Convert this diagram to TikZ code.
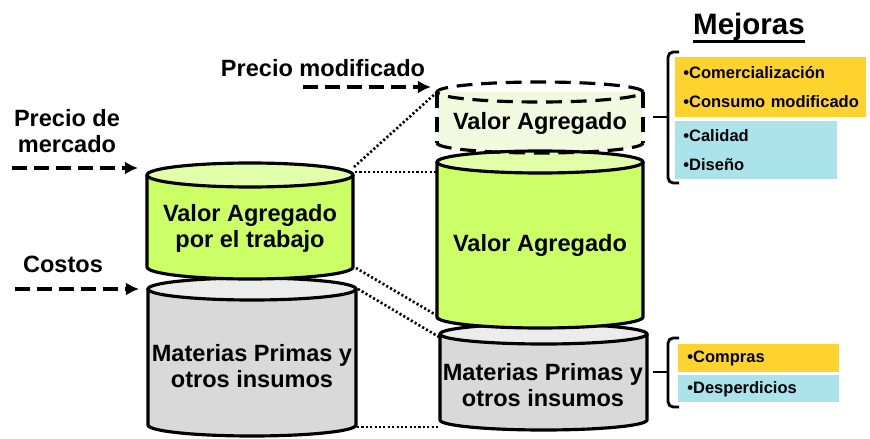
\documentclass[tikz,border=0pt]{standalone}
\usepackage{fontspec}
\setmainfont{Liberation Sans}
\usetikzlibrary{arrows.meta}

\definecolor{vgreen}{HTML}{CCFF66}
\definecolor{vlid}{HTML}{E2FFAA}
\definecolor{mgray}{HTML}{D9D9D9}
\definecolor{mlid}{HTML}{ECECEC}
\definecolor{vpale}{HTML}{F1F9DF}
\definecolor{morange}{HTML}{FFD32E}
\definecolor{mcyan}{HTML}{ABE3EA}

\begin{document}
\begin{tikzpicture}[x=0.02cm,y=0.02cm,
	rim/.style={line width=1.8pt},
	gap/.style={line width=1.8pt,dash pattern=on 9pt off 5pt},
	feed/.style={line width=1.9pt,dash pattern=on 8.5pt off 4pt,-{Latex[length=7.5pt,width=7.5pt]}},
	link/.style={line width=1.5pt,dash pattern=on 1.2pt off 1.3pt},
	lbl/.style={font=\bfseries\fontsize{13.4}{14.8}\selectfont,align=center,inner sep=0pt},
	item/.style={font=\bfseries\fontsize{9.4}{16.4}\selectfont,align=left,anchor=north west,inner xsep=0.16cm,inner ysep=0pt},
	brace/.style={line width=1.6pt,rounded corners=3pt}]
		\useasboundingbox (0,0) rectangle (870,-439);

		\fill[vpale] (437,-92) rectangle (643,-143);
		\fill[vpale] (540,-143) ellipse [x radius=103,y radius=10];
		\draw[gap] (540,-92) ellipse [x radius=103,y radius=10];
		\draw[gap] (437,-92) -- (437,-143);
		\draw[gap] (643,-92) -- (643,-143);

		\foreach \xl/\xr/\yt/\yb/\ry/\body/\lid in {148/356/-289/-425/11/mgray/mlid,
			147/353/-175/-267/12/vgreen/vlid,
			440/647/-334/-420/10/mgray/mlid,
			437/643/-162/-317/11/vgreen/vlid}{
			\pgfmathsetmacro\cx{(\xl+\xr)/2}
			\pgfmathsetmacro\rx{(\xr-\xl)/2}
			\fill[\body] (\xl,\yt) rectangle (\xr,\yb);
			\fill[\body] (\cx,\yb) ellipse [x radius=\rx,y radius=\ry];
			\draw[rim] (\xl,\yt) -- (\xl,\yb) arc [start angle=180,end angle=360,x radius=\rx,y radius=\ry] -- (\xr,\yt);
			\filldraw[rim,fill=\lid] (\cx,\yt) ellipse [x radius=\rx,y radius=\ry];
		}

		\draw[gap] (437,-143) arc [start angle=180,end angle=360,x radius=103,y radius=10];

		\node[lbl] (va-left) at (250,-228) {Valor Agregado\\por el trabajo};
		\node[lbl] (mp-left) at (252,-366) {Materias Primas y\\otros insumos};
		\node[lbl] (va-new) at (540,-123) {Valor Agregado};
		\node[lbl] (va-right) at (540,-245) {Valor Agregado};
		\node[lbl] (mp-right) at (543,-385) {Materias Primas y\\otros insumos};

		\node[lbl] (mercado) at (67,-131) {Precio de\\mercado};
		\node[lbl] (costos) at (63,-264) {Costos};
		\node[lbl] (modif) at (323,-68) {Precio modificado};
		\node[inner sep=0pt,font=\bfseries\fontsize{16.8}{18}\selectfont] (mejoras) at (749,-27) {Mejoras};
		\draw[line width=1.4pt] ([yshift=-4pt]mejoras.base west) -- ([yshift=-4pt]mejoras.base east);

		\coordinate (mercado-in) at (12,-168);
		\coordinate (mercado-end) at (138,-168);
		\coordinate (costos-in) at (15,-289);
		\coordinate (costos-end) at (139,-289);
		\coordinate (modif-in) at (303,-87);
		\coordinate (modif-end) at (431,-87);
		\draw[feed] (mercado-in) -- (mercado-end);
		\draw[feed] (costos-in) -- (costos-end);
		\draw[feed] (modif-in) -- (modif-end);

		\coordinate (lg-top) at (354,-167);
		\coordinate (lg-mid) at (355,-172);
		\coordinate (lg-bot) at (356,-268);
		\coordinate (lm-top) at (358,-289);
		\coordinate (lm-bot) at (357,-427);
		\coordinate (rn-top) at (436,-93);
		\coordinate (rg-top) at (436,-172);
		\coordinate (rg-bot) at (436,-315);
		\coordinate (rm-top) at (439,-337);
		\coordinate (rm-bot) at (439,-427);
		\draw[link] (lg-top) -- (rn-top);
		\draw[link] (lg-mid) -- (rg-top);
		\draw[link] (lg-bot) -- (rg-bot);
		\draw[link] (lm-top) -- (rm-top);
		\draw[link] (lm-bot) -- (rm-bot);

		\draw[brace] (679,-52) -- (668,-52) -- (668,-183) -- (679,-183);
		\draw[brace] (653,-117) -- (668,-117);
		\draw[brace] (679,-338) -- (668,-338) -- (668,-407) -- (679,-407);
		\draw[brace] (653,-372) -- (668,-372);

		\node[item,fill=morange,text width=3.5cm,minimum height=1.2cm] (comerc) at (675,-57) {\mbox{•Comercialización}\\\mbox{•Consumo modificado}};
		\node[item,fill=mcyan,text width=2.92cm,minimum height=1.16cm] (calidad) at (675,-121) {•Calidad\\•Diseño};
		\node[item,fill=morange,text width=2.86cm,minimum height=0.56cm,inner xsep=0.18cm] (compras) at (678,-344) {•Compras};
		\node[item,fill=mcyan,text width=2.86cm,minimum height=0.54cm,inner xsep=0.18cm] (desperd) at (678,-375) {•Desperdicios};
\end{tikzpicture}
\end{document}
